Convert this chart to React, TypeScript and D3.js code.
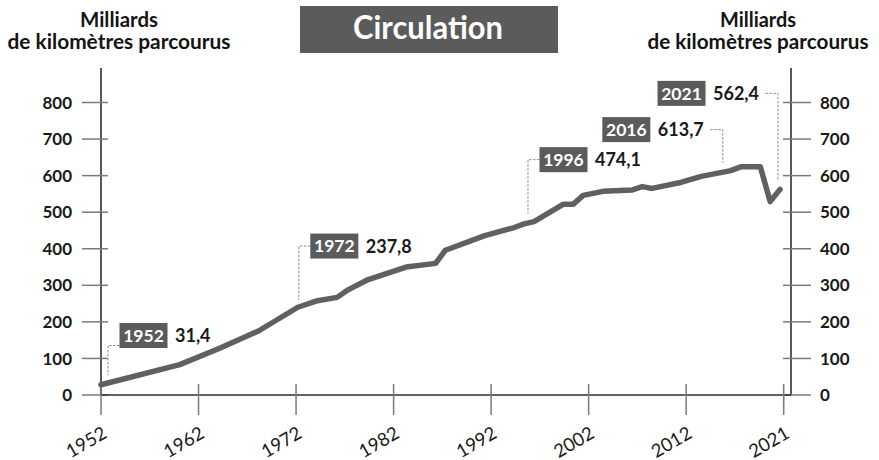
import React from "react";
import * as d3 from "d3";

// ---- data ----
const years = [1952, 1960, 1964, 1968, 1972, 1974, 1976, 1977, 1979, 1983, 1986, 1987, 1991, 1994, 1995, 1996, 1999, 2000, 2001, 2003, 2006, 2007, 2008, 2011, 2013, 2016, 2017, 2019, 2020, 2021];
const values = [28, 83, 127, 175, 240, 258, 267, 286, 314, 350, 360, 396, 436, 458, 468, 474.1, 522, 522, 546, 557, 561, 570, 565, 582, 598, 613.7, 624, 624, 529, 562.4];

const yTicks = [0, 100, 200, 300, 400, 500, 600, 700, 800];
const xTickLabels = ["1952", "1962", "1972", "1982", "1992", "2002", "2012", "2021"];

const annYears = [1952, 1972, 1996, 2016, 2021];
const annValues = [31.4, 237.8, 474.1, 613.7, 562.4];

const title = "Circulation";
const unitLines = ["Milliards", "de kilomètres parcourus"];

// ---- layout (not data) ----
const annLayout = [
  { side: "right", shift: 7, rise: 30, boxDy: -10 },
  { side: "right", shift: 1, rise: 54, boxDy: 0 },
  { side: "right", shift: -6, rise: 54, boxDy: 0 },
  { side: "left", shift: -8, rise: 33, boxDy: 0 },
  { side: "left", shift: -2, rise: 88, boxDy: 0 },
];

const W = 879;
const H = 460;
const FONT = "Lato, 'Open Sans', sans-serif";
const LINE_COLOR = "#606060";
const BOX_COLOR = "#5b5b5b";
const AXIS_COLOR = "#2e2e2e";
const TICK_COLOR = "#7a7a7a";

const locale = d3.formatLocale({ decimal: ",", thousands: " ", grouping: [3], currency: ["", "€"] });
const fmt = locale.format(".1f");

function measure(text: string, font: string): number {
  if (typeof document === "undefined") return text.length * 9.5;
  const c = document.createElement("canvas");
  const ctx = c.getContext("2d");
  if (!ctx) return text.length * 9.5;
  ctx.font = font;
  return ctx.measureText(text).width;
}

export default function App() {
  const x = d3.scaleLinear().domain([1952, 2021]).range([101, 780]);
  const y = d3.scaleLinear().domain([0, 800]).range([395, 102.5]);
  const xAxisPos = d3.scalePoint<string>().domain(xTickLabels).range([101, 783.7]);

  const leftAxisX = 101;
  const rightAxisX = 791;
  const axisTop = 68;

  const linePath = d3
    .line<number>()
    .x((_, i) => x(years[i]))
    .y((d) => y(d))
    .curve(d3.curveLinear)(values);

  const boxW = 48;
  const boxH = 25;
  const valFont = `bold 18px ${FONT}`;

  return (
    <svg
      width={W}
      height={H}
      viewBox={`0 0 ${W} ${H}`}
      style={{ position: "absolute", left: 0, top: 0, background: "#fff" }}
      fontFamily={FONT}
    >
      {/* title */}
      <rect x={300} y={6} width={258} height={47} fill={BOX_COLOR} />
      <text
        x={428}
        y={39}
        textAnchor="middle"
        fill="#fff"
        fontSize={32}
        fontWeight={700}
        textLength={150}
        lengthAdjust="spacingAndGlyphs"
      >
        {title}
      </text>

      {/* unit headers */}
      {[
        { cx: 119, w1: 78, w2: 223 },
        { cx: 758, w1: 76, w2: 221 },
      ].map((h, k) => (
        <g key={k} fill="#141414" fontWeight={700} fontSize={20}>
          <text x={h.cx} y={26.5} textAnchor="middle" textLength={h.w1} lengthAdjust="spacingAndGlyphs">
            {unitLines[0]}
          </text>
          <text x={h.cx} y={49} textAnchor="middle" textLength={h.w2} lengthAdjust="spacingAndGlyphs">
            {unitLines[1]}
          </text>
        </g>
      ))}

      {/* left axis */}
      <line x1={leftAxisX} x2={leftAxisX} y1={axisTop} y2={y(0)} stroke={AXIS_COLOR} strokeWidth={1.6} />
      {yTicks.map((t) => (
        <g key={"l" + t}>
          <line x1={82} x2={108} y1={y(t)} y2={y(t)} stroke={TICK_COLOR} strokeWidth={1.5} />
          <text x={72} y={y(t)} dy="0.36em" textAnchor="end" fontSize={17} fontWeight={700} fill="#1a1a1a">
            {t}
          </text>
        </g>
      ))}

      {/* right axis */}
      <line x1={rightAxisX} x2={rightAxisX} y1={axisTop} y2={y(0)} stroke={AXIS_COLOR} strokeWidth={1.6} />
      {yTicks.map((t) => (
        <g key={"r" + t}>
          <line x1={783} x2={811} y1={y(t)} y2={y(t)} stroke={TICK_COLOR} strokeWidth={1.5} />
          <text x={820} y={y(t)} dy="0.36em" textAnchor="start" fontSize={17} fontWeight={700} fill="#1a1a1a">
            {t}
          </text>
        </g>
      ))}

      {/* bottom axis */}
      <line x1={leftAxisX} x2={rightAxisX} y1={y(0)} y2={y(0)} stroke={AXIS_COLOR} strokeWidth={1.6} />
      {xTickLabels.map((lab) => {
        const px = xAxisPos(lab) as number;
        return (
          <g key={"x" + lab}>
            <line x1={px} x2={px} y1={384} y2={415} stroke={TICK_COLOR} strokeWidth={1.5} />
            <text
              transform={`translate(${px + 7},${437}) rotate(-30)`}
              textAnchor="end"
              fontSize={18.5}
              fontWeight={400}
              fill="#1a1a1a"
            >
              {lab}
            </text>
          </g>
        );
      })}

      {/* data line */}
      <path d={linePath || ""} fill="none" stroke={LINE_COLOR} strokeWidth={5.5} strokeLinejoin="round" strokeLinecap="round" />

      {/* annotations */}
      {annYears.map((yr, i) => {
        const lay = annLayout[i];
        const lx = x(yr) + lay.shift;
        const bottom = y(annValues[i]) - 8;
        const top = bottom - lay.rise;
        const valText = fmt(annValues[i]);
        const vw = measure(valText, valFont);
        const boxCy = top + lay.boxDy;
        let boxX: number;
        let valX: number;
        let hStart: number;
        if (lay.side === "right") {
          boxX = lx + 11.5;
          valX = boxX + boxW + 7.5;
          hStart = boxX;
        } else {
          hStart = lx - 12.5;
          valX = hStart - 6.5 - vw;
          boxX = valX - 7.5 - boxW;
        }
        return (
          <g key={"a" + yr}>
            <polyline
              points={`${hStart},${top} ${lx},${top} ${lx},${bottom}`}
              fill="none"
              stroke="#8a8a8a"
              strokeWidth={1}
              strokeDasharray="2.5,1.5"
            />
            <rect x={boxX} y={boxCy - boxH / 2} width={boxW} height={boxH} fill={BOX_COLOR} />
            <text x={boxX + boxW / 2} y={boxCy} dy="0.36em" textAnchor="middle" fill="#fff" fontSize={17.5} fontWeight={700}>
              {yr}
            </text>
            <text x={valX} y={boxCy} dy="0.36em" textAnchor="start" fill="#1a1a1a" fontSize={18} fontWeight={700}>
              {valText}
            </text>
          </g>
        );
      })}
    </svg>
  );
}
